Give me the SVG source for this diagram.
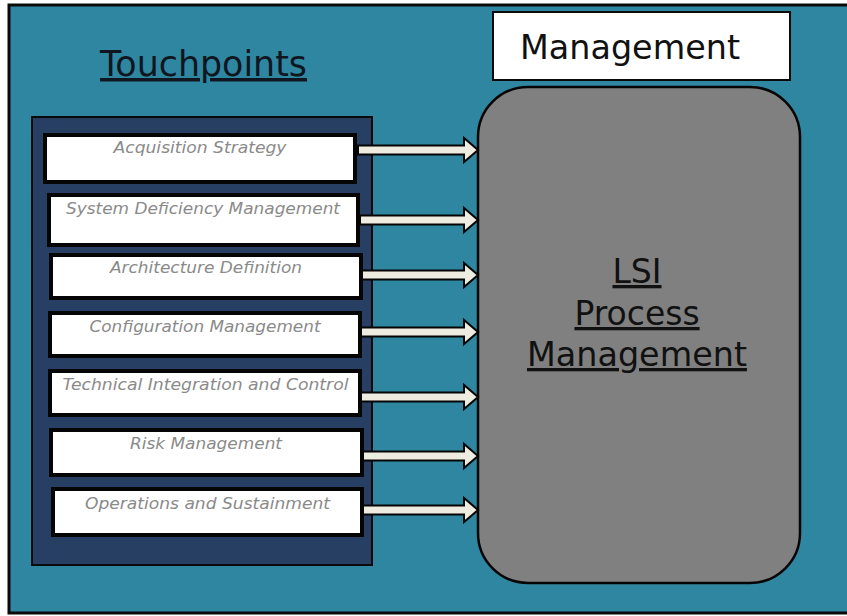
<svg xmlns="http://www.w3.org/2000/svg" width="847" height="616" viewBox="0 0 847 616">
  <defs>
    <style>
      .frame { fill: #2f86a0; stroke: #0a0a0a; stroke-width: 3; }
      .panel { fill: #263f62; stroke: #0a0a0a; stroke-width: 2; }
      .tp { fill: #ffffff; stroke: #050505; stroke-width: 4; }
      .tp-label { font-family: "DejaVu Sans", Verdana, sans-serif; font-style: italic; font-size: 15px; fill: #8a8a8a; text-anchor: middle; }
      .title { font-family: "DejaVu Sans", Verdana, sans-serif; font-size: 35px; fill: #0f1620; text-decoration: underline; }
      .mgmt-box { fill: #ffffff; stroke: #0a0a0a; stroke-width: 2; }
      .mgmt-label { font-family: "DejaVu Sans", Verdana, sans-serif; font-size: 33px; fill: #111111; }
      .core { fill: #808080; stroke: #050505; stroke-width: 2.5; }
      .core-label { font-family: "DejaVu Sans", Verdana, sans-serif; font-size: 33px; fill: #111111; text-anchor: middle; text-decoration: underline; }
      .arrow { fill: #eeebe0; stroke: #050505; stroke-width: 2; stroke-linejoin: miter; }
    </style>
  </defs>

  <!-- background frame -->
  <rect class="frame" x="9" y="5" width="845" height="608"/>

  <g id="touchpoints-title">
    <text class="title" x="100" y="76" textLength="207" lengthAdjust="spacingAndGlyphs">Touchpoints</text>
  </g>

  <g id="management-title">
    <rect class="mgmt-box" x="493" y="12" width="297" height="68"/>
    <text class="mgmt-label" x="520" y="59" textLength="220" lengthAdjust="spacingAndGlyphs">Management</text>
  </g>

  <g id="touchpoint-panel">
    <rect class="panel" x="32" y="117" width="340" height="448"/>
  </g>

  <g id="tp-acquisition">
    <rect class="tp" x="45" y="135" width="310" height="47"/>
    <text class="tp-label" x="200" y="153" textLength="173" lengthAdjust="spacingAndGlyphs">Acquisition Strategy</text>
  </g>
  <g id="tp-deficiency">
    <rect class="tp" x="49" y="195" width="309" height="50"/>
    <text class="tp-label" x="203" y="214" textLength="274" lengthAdjust="spacingAndGlyphs">System Deficiency Management</text>
  </g>
  <g id="tp-architecture">
    <rect class="tp" x="51" y="255" width="310" height="43"/>
    <text class="tp-label" x="206" y="273" textLength="192" lengthAdjust="spacingAndGlyphs">Architecture Definition</text>
  </g>
  <g id="tp-configuration">
    <rect class="tp" x="50" y="313" width="310" height="43"/>
    <text class="tp-label" x="205" y="332" textLength="231" lengthAdjust="spacingAndGlyphs">Configuration Management</text>
  </g>
  <g id="tp-integration">
    <rect class="tp" x="50" y="371" width="310" height="44"/>
    <text class="tp-label" x="205.5" y="390" textLength="286" lengthAdjust="spacingAndGlyphs">Technical Integration and Control</text>
  </g>
  <g id="tp-risk">
    <rect class="tp" x="51" y="430" width="311" height="45"/>
    <text class="tp-label" x="206" y="449" textLength="152" lengthAdjust="spacingAndGlyphs">Risk Management</text>
  </g>
  <g id="tp-operations">
    <rect class="tp" x="53" y="489" width="309" height="46"/>
    <text class="tp-label" x="207.5" y="509" textLength="245" lengthAdjust="spacingAndGlyphs">Operations and Sustainment</text>
  </g>

  <g id="lsi-process">
    <rect class="core" x="478" y="87" width="322" height="496" rx="50" ry="50"/>
    <text class="core-label" x="637" y="283">LSI</text>
    <text class="core-label" x="637" y="325">Process</text>
    <text class="core-label" x="637" y="366" textLength="220" lengthAdjust="spacingAndGlyphs">Management</text>
  </g>

  <!-- block arrows feeding the process -->
  <g id="connectors">
    <polygon class="arrow" points="358,145.5 464,145.5 464,138 478,150 464,162 464,154.5 358,154.5"/>
    <polygon class="arrow" points="360,215.5 464,215.5 464,208 478,220 464,232 464,224.5 360,224.5"/>
    <polygon class="arrow" points="362,270.5 464,270.5 464,263 478,275 464,287 464,279.5 362,279.5"/>
    <polygon class="arrow" points="361,327.5 464,327.5 464,320 478,332 464,344 464,336.5 361,336.5"/>
    <polygon class="arrow" points="361,392.5 464,392.5 464,385 478,397 464,409 464,401.5 361,401.5"/>
    <polygon class="arrow" points="363,451.5 464,451.5 464,444 478,456 464,468 464,460.5 363,460.5"/>
    <polygon class="arrow" points="363,505.5 464,505.5 464,498 478,510 464,522 464,514.5 363,514.5"/>
  </g>
</svg>
